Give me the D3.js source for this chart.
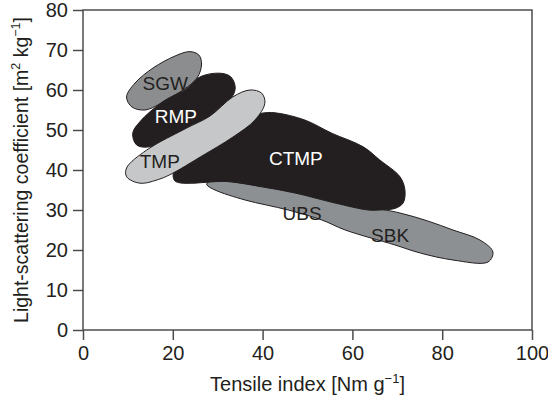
<!DOCTYPE html>
<html>
<head>
<meta charset="utf-8">
<script src="https://cdn.jsdelivr.net/npm/d3@7"></script>
<style>
  body { margin: 0; background: #fff; }
  svg { font-family: "Liberation Sans", Arial, sans-serif; }
</style>
</head>
<body>
<div id="chart"></div>
<script>
// pulp regions: outlines as [tensile index, light-scattering coefficient]
const sbkOutline = [[27.6, 36.7], [29.4, 37.5], [35.0, 36.75], [48.3, 34.25], [63.9, 30.75], [70.6, 29.25],
  [76.8, 27.25], [82.4, 25], [88.4, 22.5], [91.3, 19.5], [90.2, 17], [82.4, 17.5], [75.1, 19.25],
  [69.5, 21.25], [58.4, 25], [53.2, 27.5], [45.7, 30], [36.1, 32.5], [29.4, 35], [27.6, 36.25]];
const ctmpOutline = [[20.3, 40], [22.7, 42.5], [29.4, 48.75], [36.1, 53], [39.8, 54.2], [42.8, 54.3],
  [49.4, 52.5], [55.4, 49.2], [62.4, 45.8], [66.1, 42.5], [70.6, 38.3], [71.7, 35], [71.3, 31.75],
  [69.5, 30.4], [66.1, 30], [63.5, 30], [56.1, 31.75], [47.2, 34.25], [39.8, 35.8], [32.3, 37.1], [20.5, 37.25]];
const sgwOutline = [[9.7, 58.25], [11.6, 61.75], [15.6, 65.5], [20.5, 68.5], [23.8, 69.6], [25.8, 68.75],
  [26.4, 66.5], [25.4, 63], [21.6, 59.5], [17.1, 56.5], [13.8, 55], [10.9, 55.75]];
const rmpOutline = [[11.07, 49.2], [12.7, 52.1], [17.8, 57.1], [23.1, 60.4], [26.1, 63.3], [30.5, 64.2],
  [32.9, 63.3], [33.9, 60.5], [32.7, 57.5], [23.8, 50], [14.9, 45.8], [11.96, 46.25]];
const tmpOutline = [[9.73, 38.3], [12.7, 36.7], [17.1, 37.75], [20.0, 39.2], [26.1, 43.25], [33.4, 48.25],
  [38.3, 52.5], [40.5, 56.7], [39.8, 59.2], [37.2, 60], [33.4, 58.3], [28.3, 53.5], [23.1, 50.5],
  [14.2, 45], [9.7, 40.5]];

// drawing order bottom to top
const regionNames = ["SBK", "CTMP", "SGW", "RMP", "TMP"];
const regionOutlines = [sbkOutline, ctmpOutline, sgwOutline, rmpOutline, tmpOutline];
const regionFills = ["#8d9093", "#231f20", "#8b8d8f", "#231f20", "#c6c7c9"];

// labels inside the regions
const labelNames = ["SGW", "RMP", "TMP", "CTMP", "UBS", "SBK"];
const labelX = [18.3, 20.7, 17.1, 47.4, 48.8, 68.4];
const labelY = [61.7, 53.5, 42.3, 43.0, 29.3, 23.8];
const labelColors = ["#231f20", "#fff", "#231f20", "#fff", "#231f20", "#231f20"];

const xTicks = [0, 20, 40, 60, 80, 100];
const yTicks = [0, 10, 20, 30, 40, 50, 60, 70, 80];

const width = 548, height = 400;
const margin = { top: 10, right: 16, bottom: 70, left: 83 };

const svg = d3.select("#chart").append("svg")
    .attr("width", width)
    .attr("height", height);

const x = d3.scaleLinear().domain([0, 100]).range([margin.left, width - margin.right]);
const y = d3.scaleLinear().domain([0, 80]).range([height - margin.bottom, margin.top]);

const axisColor = "#4d4d4d";

// regions
const line = d3.line()
    .x(d => x(d[0]))
    .y(d => y(d[1]))
    .curve(d3.curveCatmullRomClosed.alpha(0.5));

svg.append("g").selectAll("path")
    .data(regionOutlines)
    .enter().append("path")
    .attr("d", line)
    .attr("fill", (d, i) => regionFills[i])
    .attr("stroke", "#231f20")
    .attr("stroke-width", 1);

svg.append("g").selectAll("text")
    .data(labelNames)
    .enter().append("text")
    .attr("x", (d, i) => x(labelX[i]))
    .attr("y", (d, i) => y(labelY[i]))
    .attr("dy", "0.36em")
    .attr("text-anchor", "middle")
    .attr("font-size", 19)
    .attr("fill", (d, i) => labelColors[i])
    .text(d => d);

// frame
svg.append("rect")
    .attr("x", x(0)).attr("y", y(80))
    .attr("width", x(100) - x(0)).attr("height", y(0) - y(80))
    .attr("fill", "none")
    .attr("stroke", axisColor)
    .attr("stroke-width", 1.5);

// axes
const xAxis = svg.append("g")
    .attr("transform", `translate(0,${y(0)})`)
    .call(d3.axisBottom(x).tickValues(xTicks).tickSize(10).tickPadding(6).tickFormat(d3.format("d")));
const yAxis = svg.append("g")
    .attr("transform", `translate(${x(0)},0)`)
    .call(d3.axisLeft(y).tickValues(yTicks).tickSize(10).tickPadding(5).tickFormat(d3.format("d")));

[xAxis, yAxis].forEach(g => {
    g.select(".domain").remove();
    g.selectAll(".tick line").attr("stroke", axisColor).attr("stroke-width", 1.5);
    g.selectAll(".tick text")
        .attr("fill", "#231f20")
        .attr("font-size", 20)
        .attr("font-family", "Liberation Sans, Arial, sans-serif");
});

// axis titles
const xTitle = svg.append("text")
    .attr("x", (x(0) + x(100)) / 2)
    .attr("y", 391)
    .attr("text-anchor", "middle")
    .attr("font-size", 20)
    .attr("fill", "#231f20");
xTitle.append("tspan").text("Tensile index [Nm g");
xTitle.append("tspan").attr("dy", -8).attr("font-size", 13).text("\u22121");
xTitle.append("tspan").attr("dy", 8).text("]");

const yTitle = svg.append("text")
    .attr("transform", `translate(28,${(y(0) + y(80)) / 2}) rotate(-90)`)
    .attr("text-anchor", "middle")
    .attr("font-size", 19.5)
    .attr("fill", "#231f20");
yTitle.append("tspan").text("Light-scattering coefficient [m");
yTitle.append("tspan").attr("dy", -8).attr("font-size", 12.5).text("2");
yTitle.append("tspan").attr("dy", 8).text(" kg");
yTitle.append("tspan").attr("dy", -8).attr("font-size", 12.5).text("\u22121");
yTitle.append("tspan").attr("dy", 8).text("]");
</script>
</body>
</html>
